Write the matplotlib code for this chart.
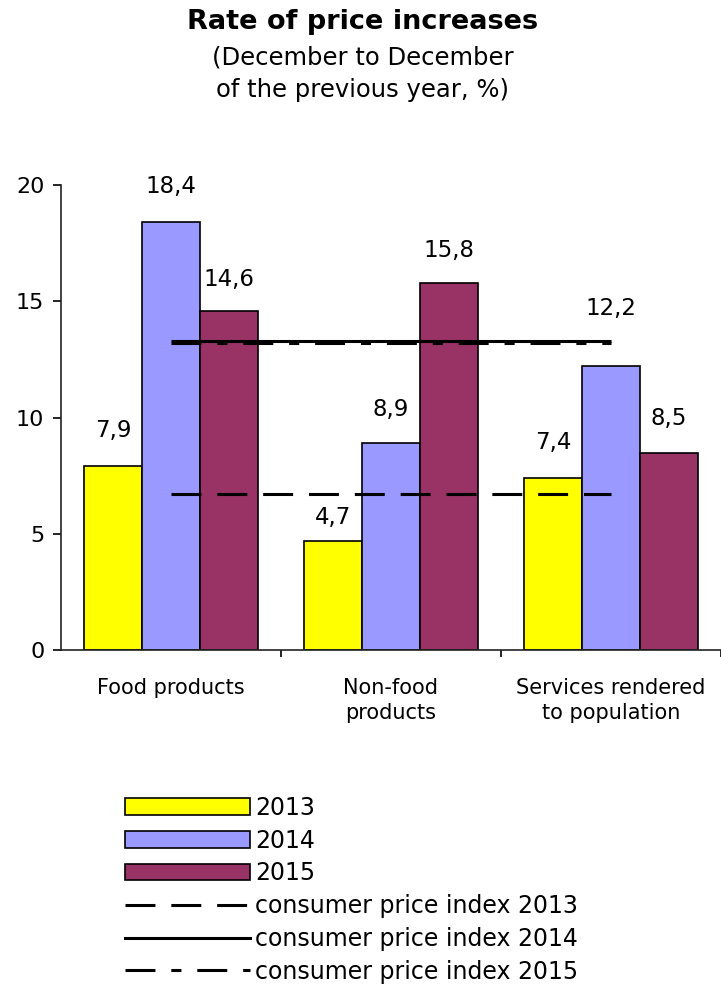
import numpy as np
import matplotlib
matplotlib.use("Agg")
import matplotlib.pyplot as plt
from matplotlib.patches import Patch
from matplotlib.lines import Line2D

# datos
categories = ['Food products', 'Non-food\nproducts', 'Services rendered\nto population']
years = ['2013', '2014', '2015']
v2013 = [7.9, 4.7, 7.4]
v2014 = [18.4, 8.9, 12.2]
v2015 = [14.6, 15.8, 8.5]
cpi_values = [6.7, 13.3, 13.2]
cpi_labels = ['consumer price index 2013', 'consumer price index 2014', 'consumer price index 2015']

colors = ['#FFFF00', '#9999FF', '#993366']
series = [v2013, v2014, v2015]
# distancia etiqueta-barra en pixeles (algunas movidas a mano en el original)
label_pad = [[24, 12, 24], [24, 22, 46], [20, 21, 23]]

lw = 2.2
cpi_styles = [(0, (9.8, 5.2)), '-', (0, (9.8, 5.2, 3.3, 5.2))]

fig = plt.figure(figsize=(7.21, 9.85), dpi=100)
ax = fig.add_axes([0.0846, 0.340, 0.9154, 0.472])

x = np.arange(len(categories))
w = 0.264
for i, vals in enumerate(series):
    pos = x + (i - 1) * w
    ax.bar(pos, vals, width=w, color=colors[i], edgecolor='black', linewidth=1.2, zorder=2)
    for j, v in enumerate(vals):
        ax.annotate(f'{v:.1f}'.replace('.', ','), (pos[j], v),
                    xytext=(0, label_pad[i][j] * 0.72), textcoords='offset points',
                    ha='center', va='bottom', fontsize=16.5, color='black')

for k, y in enumerate(cpi_values):
    ax.hlines(y, x[0], x[-1], colors='black', linewidth=lw, linestyles=cpi_styles[k], zorder=3)

ax.set_xlim(-0.5, 2.5)
ax.set_ylim(0, 20)
ax.set_yticks([0, 5, 10, 15, 20])
ax.tick_params(axis='y', direction='out', length=6, width=1.2, labelsize=16, pad=6)
ax.set_xticks([0.5, 1.5, 2.5])
ax.set_xticklabels([])
ax.tick_params(axis='x', which='major', direction='out', length=5, width=1.2)
ax.set_xticks(x, minor=True)
ax.set_xticklabels(categories, minor=True, fontsize=15, linespacing=1.35)
ax.tick_params(axis='x', which='minor', length=0, pad=20)

for s in ['top', 'right']:
    ax.spines[s].set_visible(False)
for s in ['left', 'bottom']:
    ax.spines[s].set_linewidth(1.2)
    ax.spines[s].set_color('#222222')

fig.text(0.503, 1 - 22 / 985, 'Rate of price increases', ha='center', va='center',
         fontsize=19.5, fontweight='bold')
fig.text(0.503, 1 - 57 / 985, '(December to December', ha='center', va='center', fontsize=17.5)
fig.text(0.503, 1 - 90 / 985, 'of the previous year, %)', ha='center', va='center', fontsize=17.5)

handles = [Patch(facecolor=colors[i], edgecolor='black', linewidth=1.2) for i in range(3)]
handles += [Line2D([], [], color='black', linewidth=lw, linestyle=cpi_styles[k]) for k in range(3)]
labels = years + cpi_labels
fig.legend(handles, labels, loc='upper left', bbox_to_anchor=(125 / 721, 1 - 796 / 985),
           frameon=False, fontsize=17, handlelength=5.3, handletextpad=0.2,
           labelspacing=0.37, borderpad=0, borderaxespad=0)

fig.savefig('out.png', dpi=100)
